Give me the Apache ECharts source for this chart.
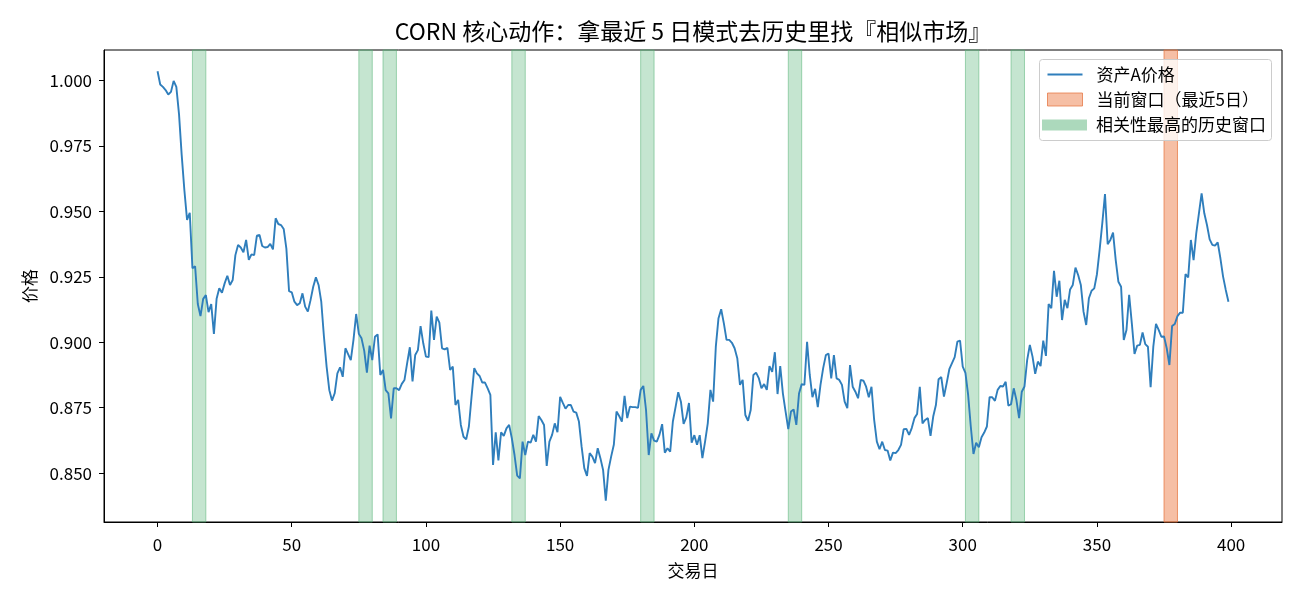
<!DOCTYPE html>
<html>
<head>
<meta charset="utf-8">
<title>CORN 相似市场</title>
<script src="https://cdn.jsdelivr.net/npm/echarts@6/dist/echarts.min.js"></script>
<style>
  html, body { margin: 0; padding: 0; background: #fff; }
  #main { width: 1300px; height: 598px; }
</style>
</head>
<body>
<div id="main"></div>
<script>
// 资产A价格：每个交易日一个值，从原图上逐日读出
var prices = [
  1.0036, 0.9985, 0.9976, 0.9964, 0.9947, 0.9957, 0.9999, 0.9976, 0.9872, 0.9715,
  0.9581, 0.9468, 0.9495, 0.9283, 0.9290, 0.9146, 0.9100, 0.9166, 0.9180, 0.9115,
  0.9146, 0.9032, 0.9166, 0.9206, 0.9189, 0.9225, 0.9254, 0.9219, 0.9238, 0.9333,
  0.9372, 0.9362, 0.9344, 0.9391, 0.9315, 0.9336, 0.9333, 0.9407, 0.9410, 0.9368,
  0.9362, 0.9364, 0.9376, 0.9355, 0.9474, 0.9452, 0.9448, 0.9433, 0.9358, 0.9195,
  0.9191, 0.9155, 0.9142, 0.9149, 0.9187, 0.9136, 0.9117, 0.9161, 0.9212, 0.9248,
  0.9219, 0.9155, 0.9021, 0.8906, 0.8817, 0.8777, 0.8805, 0.8881, 0.8904, 0.8868,
  0.8977, 0.8955, 0.8932, 0.9009, 0.9108, 0.9032, 0.9015, 0.8968, 0.8884, 0.8987,
  0.8932, 0.9021, 0.9030, 0.8875, 0.8894, 0.8817, 0.8805, 0.8709, 0.8824, 0.8824,
  0.8817, 0.8841, 0.8856, 0.8920, 0.8981, 0.8850, 0.8951, 0.8970, 0.9062, 0.8996,
  0.8945, 0.8943, 0.9121, 0.9009, 0.9098, 0.9075, 0.8977, 0.8973, 0.8979, 0.8894,
  0.8907, 0.8760, 0.8780, 0.8684, 0.8639, 0.8629, 0.8678, 0.8792, 0.8901, 0.8881,
  0.8871, 0.8846, 0.8846, 0.8824, 0.8799, 0.8531, 0.8656, 0.8548, 0.8656, 0.8642,
  0.8671, 0.8684, 0.8633, 0.8569, 0.8490, 0.8480, 0.8620, 0.8569, 0.8620, 0.8616,
  0.8646, 0.8620, 0.8718, 0.8703, 0.8684, 0.8527, 0.8620, 0.8646, 0.8690, 0.8656,
  0.8791, 0.8768, 0.8746, 0.8760, 0.8760, 0.8735, 0.8731, 0.8697, 0.8601, 0.8519,
  0.8489, 0.8576, 0.8563, 0.8538, 0.8595, 0.8557, 0.8512, 0.8395, 0.8512, 0.8563,
  0.8608, 0.8735, 0.8718, 0.8697, 0.8795, 0.8710, 0.8754, 0.8752, 0.8752, 0.8749,
  0.8818, 0.8833, 0.8741, 0.8569, 0.8652, 0.8624, 0.8620, 0.8646, 0.8687, 0.8578,
  0.8595, 0.8582, 0.8697, 0.8752, 0.8809, 0.8773, 0.8688, 0.8713, 0.8768, 0.8616,
  0.8645, 0.8608, 0.8645, 0.8557, 0.8620, 0.8690, 0.8818, 0.8773, 0.8983, 0.9092,
  0.9126, 0.9072, 0.9009, 0.9009, 0.8998, 0.8977, 0.8939, 0.8837, 0.8856, 0.8722,
  0.8700, 0.8741, 0.8875, 0.8884, 0.8863, 0.8824, 0.8840, 0.8818, 0.8909, 0.8887,
  0.8962, 0.8802, 0.8909, 0.8804, 0.8735, 0.8668, 0.8735, 0.8743, 0.8684, 0.8804,
  0.8840, 0.8837, 0.9002, 0.8875, 0.8790, 0.8822, 0.8752, 0.8837, 0.8901, 0.8951,
  0.8957, 0.8862, 0.8951, 0.8862, 0.8856, 0.8837, 0.8773, 0.8748, 0.8913, 0.8830,
  0.8811, 0.8786, 0.8856, 0.8853, 0.8830, 0.8790, 0.8830, 0.8703, 0.8620, 0.8591,
  0.8620, 0.8588, 0.8586, 0.8548, 0.8578, 0.8576, 0.8588, 0.8608, 0.8668, 0.8669,
  0.8646, 0.8672, 0.8710, 0.8726, 0.8830, 0.8690, 0.8703, 0.8710, 0.8642, 0.8716,
  0.8760, 0.8859, 0.8867, 0.8792, 0.8843, 0.8897, 0.8920, 0.8943, 0.9002, 0.9006,
  0.8907, 0.8883, 0.8800, 0.8678, 0.8573, 0.8616, 0.8599, 0.8637, 0.8655, 0.8678,
  0.8790, 0.8790, 0.8776, 0.8818, 0.8833, 0.8831, 0.8849, 0.8758, 0.8763, 0.8824,
  0.8779, 0.8710, 0.8811, 0.8831, 0.8932, 0.8990, 0.8945, 0.8879, 0.8926, 0.8909,
  0.9006, 0.8948, 0.9146, 0.9130, 0.9273, 0.9174, 0.9235, 0.9085, 0.9162, 0.9130,
  0.9202, 0.9219, 0.9285, 0.9257, 0.9219, 0.9117, 0.9066, 0.9168, 0.9197, 0.9206,
  0.9260, 0.9353, 0.9455, 0.9566, 0.9375, 0.9391, 0.9419, 0.9314, 0.9231, 0.9212,
  0.9009, 0.9047, 0.9181, 0.9072, 0.8955, 0.8987, 0.8990, 0.9037, 0.8993, 0.8983,
  0.8828, 0.8983, 0.9070, 0.9047, 0.9021, 0.9022, 0.8977, 0.8913, 0.9062, 0.9070,
  0.9100, 0.9113, 0.9113, 0.9261, 0.9248, 0.9391, 0.9314, 0.9416, 0.9493, 0.9569,
  0.9493, 0.9448, 0.9393, 0.9372, 0.9369, 0.9382, 0.9321, 0.9251, 0.9200, 0.9155
];

// 刻度
var xTicks = [0, 50, 100, 150, 200, 250, 300, 350, 400];
var yTicks = [0.85, 0.875, 0.9, 0.925, 0.95, 0.975, 1.0];

// 窗口：起始交易日，长度 5
var windowLen = 5;
var similarStarts = [13, 75, 84, 132, 180, 235, 301, 318];
var currentStart = 375;

var FONT = '"Noto Sans CJK SC", "Noto Sans", sans-serif';
var BLUE = '#2f7ebc';

var chart = echarts.init(document.getElementById('main'));

var points = prices.map(function (v, i) { return [i, v]; });

var option = {
    animation: false,
    textStyle: { fontFamily: FONT },
    title: {
        text: 'CORN 核心动作：拿最近 5 日模式去历史里找『相似市场』',
        left: 693,
        top: 20,
        padding: 0,
        textAlign: 'center',
        textStyle: { fontSize: 23, fontWeight: 'normal', color: '#000', fontFamily: FONT }
    },
    // 图例底框（半透明白）
    graphic: [{
        type: 'rect',
        z: 50,
        shape: { x: 1039.5, y: 59.5, width: 232, height: 81, r: 3 },
        style: { fill: 'rgba(255,255,255,0.8)', stroke: '#cccccc', lineWidth: 1 }
    }],
    legend: [{
        orient: 'vertical',
        left: 1047,
        top: 66,
        padding: 0,
        z: 60,
        itemWidth: 35,
        itemHeight: 13,
        itemGap: 8,
        selectedMode: false,
        textStyle: { fontSize: 17, lineHeight: 17, color: '#000', fontFamily: FONT, padding: [0, 0, 0, 9] },
        data: [
            { name: '资产A价格', icon: 'path://M0,0H35V1.9H0Z', itemStyle: { color: BLUE, borderWidth: 0, opacity: 1 } },
            { name: '当前窗口（最近5日）', icon: 'rect', itemStyle: { color: 'rgba(238,127,76,0.5)', borderColor: 'rgba(230,118,66,0.75)', borderWidth: 1, opacity: 1 } }
        ]
    }, {
        orient: 'vertical',
        left: 1042,
        top: 116.5,
        padding: 0,
        z: 60,
        itemWidth: 45,
        itemHeight: 11,
        selectedMode: false,
        textStyle: { fontSize: 17, lineHeight: 17, color: '#000', fontFamily: FONT, padding: [0, 0, 0, 4] },
        data: [
            { name: '相关性最高的历史窗口', icon: 'rect', itemStyle: { color: 'rgba(89,180,121,0.5)', borderWidth: 0, opacity: 1 } }
        ]
    }],
    grid: {
        left: 104, right: 18, top: 50, bottom: 76,
        show: true, borderColor: '#000', borderWidth: 1
    },
    xAxis: {
        type: 'value',
        min: -19.95,
        max: 418.95,
        name: '交易日',
        nameLocation: 'middle',
        nameGap: 40,
        nameTextStyle: { fontSize: 17, color: '#000', fontFamily: FONT },
        axisLine: { show: true, onZero: false, lineStyle: { color: '#000', width: 1 } },
        axisTick: { show: true, length: 5, customValues: xTicks, lineStyle: { color: '#000' } },
        axisLabel: { customValues: xTicks, fontSize: 17, color: '#000', margin: 14, fontFamily: FONT },
        splitLine: { show: false }
    },
    yAxis: {
        type: 'value',
        min: 0.8313,
        max: 1.0117,
        name: '价格',
        nameLocation: 'middle',
        nameGap: 66,
        nameTextStyle: { fontSize: 17, color: '#000', fontFamily: FONT },
        axisLine: { show: true, onZero: false, lineStyle: { color: '#000', width: 1 } },
        axisTick: { show: true, length: 5, customValues: yTicks, lineStyle: { color: '#000' } },
        axisLabel: {
            customValues: yTicks, fontSize: 17, color: '#000', margin: 12, fontFamily: FONT,
            formatter: function (v) { return v.toFixed(3); }
        },
        splitLine: { show: false }
    },
    series: [{
        name: '相关性最高的历史窗口',
        type: 'line',
        data: points,
        symbol: 'none',
        silent: true,
        z: 1,
        lineStyle: { width: 0 },
        itemStyle: { color: 'rgba(89,180,121,0.5)' },
        markArea: {
            silent: true,
            label: { show: false },
            itemStyle: { color: 'rgba(89,180,121,0.35)', borderColor: 'rgba(89,180,121,0.55)', borderWidth: 1 },
            data: similarStarts.map(function (s) { return [{ xAxis: s }, { xAxis: s + windowLen }]; })
        }
    }, {
        name: '当前窗口（最近5日）',
        type: 'line',
        data: points,
        symbol: 'none',
        silent: true,
        z: 1,
        lineStyle: { width: 0 },
        itemStyle: { color: 'rgba(238,127,76,0.5)' },
        markArea: {
            silent: true,
            label: { show: false },
            itemStyle: { color: 'rgba(238,127,76,0.5)', borderColor: 'rgba(230,118,66,0.75)', borderWidth: 1 },
            data: [[{ xAxis: currentStart }, { xAxis: currentStart + windowLen }]]
        }
    }, {
        name: '资产A价格',
        type: 'line',
        data: points,
        symbol: 'none',
        showSymbol: false,
        z: 3,
        lineStyle: { width: 1.9, color: BLUE },
        itemStyle: { color: BLUE }
    }]
};

chart.setOption(option);
</script>
</body>
</html>
